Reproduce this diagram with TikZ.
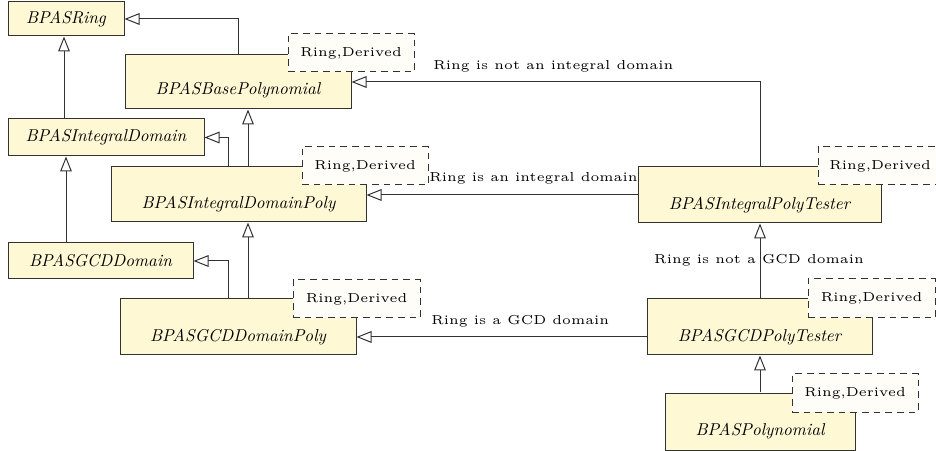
\documentclass[tikz,border=0pt]{standalone}
\usetikzlibrary{arrows.meta,fit}
\usepackage{graphicx}
\definecolor{clsfill}{RGB}{255,248,213}
\definecolor{tagfill}{RGB}{255,253,247}
\definecolor{edgecol}{RGB}{50,50,50}
\newcommand{\smalltxt}[1]{\scalebox{1.56}{\tiny #1}}
\newcommand{\clstxt}[1]{{\fontsize{10.3}{12}\selectfont\itshape #1}}
\begin{document}
\begin{tikzpicture}[x=0.6pt,y=-0.6pt,
  cls/.style={draw=edgecol,fill=clsfill,line width=0.6pt,inner sep=0pt},
  tag/.style={draw=edgecol,fill=tagfill,dash pattern=on 4pt off 3pt,line width=0.6pt,inner sep=0pt},
  inh/.style={draw=edgecol,line width=0.6pt,-{Triangle[open,length=9pt,width=7pt]}},
  lbl/.style={inner sep=0pt}]
\useasboundingbox (0,0) rectangle (936,451);
% classes
\node[cls,fit={(8,2)(124,36)},label={center:\clstxt{BPASRing}}] (ring) {};
\node[cls,fit={(125,55)(351,109)},label={[yshift=-5pt]center:\clstxt{BPASBasePolynomial}}] (base) {};
\node[tag,fit={(288,34)(414,72)},label={center:\smalltxt{Ring,Derived}}] (tbase) {};
\node[cls,fit={(8,119)(204,156)},label={center:\clstxt{BPASIntegralDomain}}] (intdom) {};
\node[cls,fit={(111,167)(366,222)},label={[yshift=-6pt]center:\clstxt{BPASIntegralDomainPoly}}] (intpoly) {};
\node[tag,fit={(302,147)(428,185)},label={center:\smalltxt{Ring,Derived}}] (tintpoly) {};
\node[cls,fit={(8,243)(193,279)},label={center:\clstxt{BPASGCDDomain}}] (gcddom) {};
% edge labels (drawn before tester boxes)
\node[lbl,anchor=west] (l1) at (433,66) {\smalltxt{Ring is not an integral domain}};
\node[lbl,anchor=west] (l2) at (429,178) {\smalltxt{Ring is an integral domain}};
\node[lbl] (l3) at (759,260) {\smalltxt{Ring is not a GCD domain}};
\node[lbl,anchor=west] (l4) at (431,321) {\smalltxt{Ring is a GCD domain}};
\node[cls,fit={(120,299)(356,355)},label={[yshift=-6pt]center:\clstxt{BPASGCDDomainPoly}}] (gcdpoly) {};
\node[tag,fit={(293,280)(420,318)},label={center:\smalltxt{Ring,Derived}}] (tgcdpoly) {};
\node[cls,fit={(638,167)(881,223)},label={[yshift=-6pt]center:\clstxt{BPASIntegralPolyTester}}] (itester) {};
\node[tag,fit={(818,147)(945,185)}] (titester) {};
\node[lbl,anchor=west] (ttxt) at (829,166) {\smalltxt{Ring,Derived}};
\node[cls,fit={(647,299)(872,355)},label={[yshift=-6pt]center:\clstxt{BPASGCDPolyTester}}] (gtester) {};
\node[tag,fit={(808,279)(935,318)},label={center:\smalltxt{Ring,Derived}}] (tgtester) {};
\node[cls,fit={(665,393)(855,450)},label={[yshift=-6pt]center:\clstxt{BPASPolynomial}}] (poly) {};
\node[tag,fit={(792,374)(918,412)},label={center:\smalltxt{Ring,Derived}}] (tpoly) {};
% edges
\draw[inh] (base.north) |- (ring.east);
\draw[inh] (intdom.north -| 64,0) -- (ring.south -| 64,0);
\draw[inh] (intpoly.north -| 248,0) -- (base.south -| 248,0);
\draw[inh] (intpoly.north -| 228,0) |- (intdom.east);
\draw[inh] (gcddom.north -| 66,0) -- (intdom.south -| 66,0);
\draw[inh] (gcdpoly.north -| 248,0) -- (intpoly.south -| 248,0);
\draw[inh] (gcdpoly.north -| 228,0) |- (gcddom.east);
\draw[inh] (itester.north -| 760,0) |- (base.east);
\draw[inh] (itester.west |- 0,195) -- (intpoly.east |- 0,195);
\draw[inh] (gtester.north -| 760,0) -- (itester.south -| 760,0);
\draw[inh] (gtester.west |- 0,337) -- (gcdpoly.east |- 0,337);
\draw[inh] (poly.north -| 760,0) -- (gtester.south -| 760,0);
\end{tikzpicture}
\end{document}
